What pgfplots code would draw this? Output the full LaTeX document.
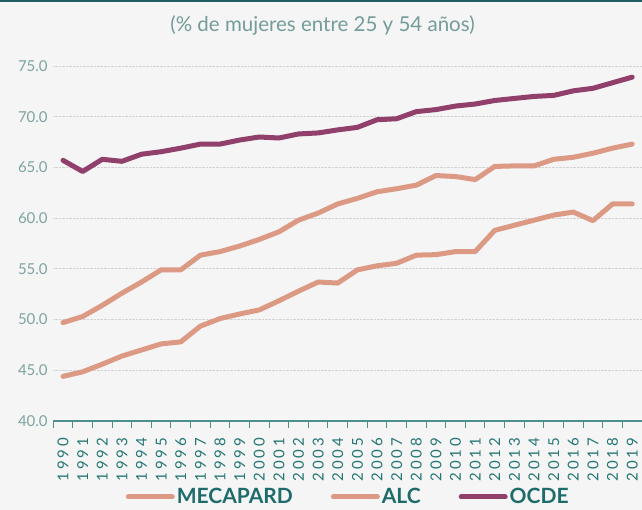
\documentclass[border=0pt]{standalone}
\usepackage{fontspec}
\setmainfont{Lato}
\newfontfamily\xlab{Lato}[LetterSpace=21]
\usepackage{pgfplots}
\pgfplotsset{compat=1.18}
\definecolor{bg}{HTML}{F5F5F5}
\definecolor{ocde}{HTML}{913F6B}
\definecolor{alc}{HTML}{DC9A84}
\definecolor{titlec}{HTML}{739C9A}
\definecolor{ylabc}{HTML}{7DA3A1}
\definecolor{xlabc}{HTML}{237673}
\definecolor{legc}{HTML}{1E6B6B}
\definecolor{axc}{HTML}{4E8F8E}
\definecolor{topc}{HTML}{1E5F63}
\begin{document}
\begin{tikzpicture}[x=1pt,y=1pt]
\fill[bg] (0,0) rectangle (642,510);
\fill[topc] (0,507.5) rectangle (642,510);
\useasboundingbox (0,0) rectangle (642,510);
\node[font=\fontsize{20.5}{24}\selectfont, text=titlec, anchor=center] at (322.5,485) {(\% de mujeres entre 25 y 54 años)};
\begin{axis}[
  at={(53.2pt,89pt)}, anchor=south west,
  scale only axis, width=588.8pt, height=355pt,
  xmin=-0.5, xmax=29.5, ymin=40, ymax=75,
  axis x line*=bottom, axis y line*=left,
  x axis line style={draw=axc, line width=1.2pt, -},
  y axis line style={draw=none},
  xtick={0,...,29},
  xticklabels={1990,1991,1992,1993,1994,1995,1996,1997,1998,1999,2000,2001,2002,2003,2004,2005,2006,2007,2008,2009,2010,2011,2012,2013,2014,2015,2016,2017,2018,2019},
  minor xtick={-0.5,0.5,...,29.5},
  major tick length=0pt,
  minor tick length=7pt,
  tick align=outside,
  minor tick style={draw=axc, line width=1pt},
  xticklabel style={rotate=90, anchor=east, font=\xlab\fontsize{15}{17}\selectfont, text=xlabc, xshift=-13pt},
  ytick={40,45,...,75},
  yticklabels={40.0,45.0,50.0,55.0,60.0,65.0,70.0,75.0},
  yticklabel style={font=\fontsize{15}{17}\selectfont, text=ylabc, xshift=-2pt},
  ytick style={draw=none},
  ymajorgrids,
  major grid style={densely dotted, draw=gray!35, line width=0.9pt},
  legend columns=3,
  legend style={at={(0.501,-0.214)}, anchor=center, draw=none, fill=none,
    font=\bfseries\fontsize{21}{24}\selectfont, text=legc,
    /tikz/every even column/.append style={column sep=36pt}},
  legend image code/.code={\draw[#1, line width=5pt, line cap=round] (0pt,0pt) -- (44pt,0pt);},
  every axis plot/.append style={line width=5pt, line cap=round, line join=round, mark=none},
  clip=false,
]
\addplot[alc] coordinates {
(0,44.4) (1,44.85) (2,45.6) (3,46.4) (4,47.0) (5,47.6) (6,47.8) (7,49.35) (8,50.1) (9,50.55)
(10,50.95) (11,51.85) (12,52.8) (13,53.7) (14,53.6) (15,54.9) (16,55.3) (17,55.55) (18,56.35) (19,56.4)
(20,56.7) (21,56.7) (22,58.8) (23,59.3) (24,59.8) (25,60.3) (26,60.6) (27,59.75) (28,61.4) (29,61.4)};
\addlegendentry{MECAPARD}
\addplot[alc] coordinates {
(0,49.7) (1,50.3) (2,51.4) (3,52.6) (4,53.7) (5,54.9) (6,54.9) (7,56.35) (8,56.7) (9,57.25)
(10,57.9) (11,58.65) (12,59.8) (13,60.5) (14,61.4) (15,61.95) (16,62.6) (17,62.9) (18,63.25) (19,64.2)
(20,64.1) (21,63.8) (22,65.1) (23,65.15) (24,65.15) (25,65.8) (26,66.0) (27,66.4) (28,66.9) (29,67.3)};
\addlegendentry{ALC}
\addplot[ocde] coordinates {
(0,65.7) (1,64.6) (2,65.8) (3,65.6) (4,66.3) (5,66.55) (6,66.9) (7,67.3) (8,67.3) (9,67.7)
(10,68.0) (11,67.9) (12,68.3) (13,68.4) (14,68.7) (15,68.95) (16,69.7) (17,69.8) (18,70.5) (19,70.7)
(20,71.05) (21,71.25) (22,71.6) (23,71.8) (24,72.0) (25,72.1) (26,72.55) (27,72.8) (28,73.35) (29,73.9)};
\addlegendentry{OCDE}
\end{axis}
\end{tikzpicture}
\end{document}
